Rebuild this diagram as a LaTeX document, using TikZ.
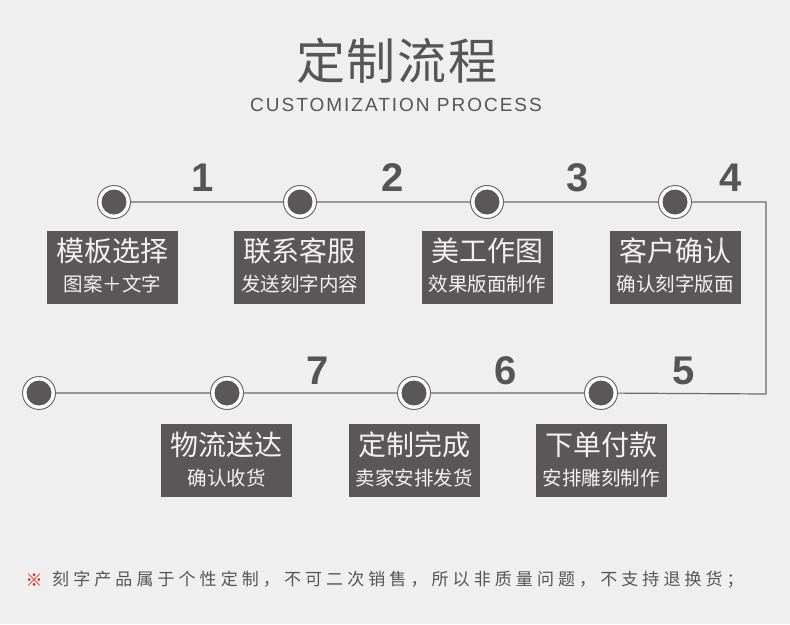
\documentclass[tikz,border=0pt]{standalone}
\usepackage{fontspec}
\setmainfont{Noto Sans CJK SC}
\newfontfamily\cjk{Noto Sans CJK SC}
\newfontfamily\numfont{Liberation Sans}
\newfontfamily\subfont[LetterSpace=10.5]{Liberation Sans}
\newfontfamily\notefont[LetterSpace=24]{Noto Sans CJK SC}
\newfontfamily\titlefont[LetterSpace=4]{Noto Sans CJK SC}
\definecolor{bg}{HTML}{EFEFEF}
\definecolor{boxc}{HTML}{5A5758}
\definecolor{linec}{HTML}{6A6A6A}
\definecolor{numc}{HTML}{555555}
\definecolor{txtc}{HTML}{F2F2F2}
\tikzset{
  stepbox/.style={fill=boxc, draw=none, minimum width=131pt, minimum height=73pt, inner sep=0pt},
  maintxt/.style={text=txtc, font=\cjk\fontsize{28}{28}\selectfont, inner sep=0pt},
  subtxt/.style={text=txtc, font=\cjk\fontsize{19.5}{20}\selectfont, inner sep=0pt},
  numtxt/.style={text=numc, font=\numfont\bfseries\fontsize{40}{40}\selectfont, inner sep=0pt},
  dot/.style={circle, fill=white, draw=linec, line width=1pt, minimum size=33pt, inner sep=0pt,
    path picture={\fill[boxc] (path picture bounding box.center) circle (12.5pt);}},
  flow/.style={draw=linec, line width=1.2pt}
}
\begin{document}
\begin{tikzpicture}[x=1pt,y=-1pt]
\path[use as bounding box, fill=bg] (0,0) rectangle (790,624);
% title
\node[text=numc, font=\titlefont\fontsize{49}{49}\selectfont, inner sep=0pt] (title) at (397,61) {定制流程};
\node[text=numc, font=\subfont\fontsize{19}{19}\selectfont, inner sep=0pt] (subtitle) at (396,105) {CUSTOMIZATION PROCESS};
% corner coordinates
\coordinate (tr) at (766,202);
\coordinate (br) at (766,394);
% dots positions
\coordinate (p1) at (114,202);
\coordinate (p2) at (300,202);
\coordinate (p3) at (487,202);
\coordinate (p4) at (675,202);
\coordinate (p5) at (601,393);
\coordinate (p6) at (414,393);
\coordinate (p7) at (227,393);
\coordinate (p8) at (39,393);
\draw[flow] (p1) -- (p2) -- (p3) -- (p4) -- (tr) -- (br) -- (p5) -- (p6) -- (p7) -- (p8);
\node[dot] (d1) at (p1) {};
\node[dot] (d2) at (p2) {};
\node[dot] (d3) at (p3) {};
\node[dot] (d4) at (p4) {};
\node[dot] (d5) at (p5) {};
\node[dot] (d6) at (p6) {};
\node[dot] (d7) at (p7) {};
\node[dot] (d8) at (p8) {};
% numbers
\node[numtxt] (n1) at (203,178) {1};
\node[numtxt] (n2) at (393,178) {2};
\node[numtxt] (n3) at (578,178) {3};
\node[numtxt] (n4) at (731,178) {4};
\node[numtxt] (n7) at (318,371) {7};
\node[numtxt] (n6) at (506,371) {6};
\node[numtxt] (n5) at (684,371) {5};
% top boxes
\node[stepbox] (b1) at (112.5,267.5) {};
\node[stepbox] (b2) at (299.5,267.5) {};
\node[stepbox] (b3) at (487,267.5) {};
\node[stepbox] (b4) at (675,267.5) {};
\node[maintxt] (m1) at (112.5,251) {模板选择};
\node[subtxt] (s1) at (112.5,284) {图案＋文字};
\node[maintxt] (m2) at (299.5,251) {联系客服};
\node[subtxt] (s2) at (299.5,284) {发送刻字内容};
\node[maintxt] (m3) at (487,251) {美工作图};
\node[subtxt] (s3) at (487,284) {效果版面制作};
\node[maintxt] (m4) at (675,251) {客户确认};
\node[subtxt] (s4) at (675,284) {确认刻字版面};
% bottom boxes
\node[stepbox] (b7) at (226.5,460.5) {};
\node[stepbox] (b6) at (414,460.5) {};
\node[stepbox] (b5) at (601,460.5) {};
\node[maintxt] (m7) at (226.5,445) {物流送达};
\node[subtxt] (s7) at (226.5,478) {确认收货};
\node[maintxt] (m6) at (414,445) {定制完成};
\node[subtxt] (s6) at (414,478) {卖家安排发货};
\node[maintxt] (m5) at (601,445) {下单付款};
\node[subtxt] (s5) at (601,478) {安排雕刻制作};
% note
\node[text=red, font=\cjk\fontsize{17}{17}\selectfont, inner sep=0pt] (mark) at (34,580) {※};
\node[anchor=west, text=numc, font=\notefont\fontsize{17}{17}\selectfont, inner sep=0pt] (note) at (52,580) {刻字产品属于个性定制，不可二次销售，所以非质量问题，不支持退换货；};
\end{tikzpicture}
\end{document}
